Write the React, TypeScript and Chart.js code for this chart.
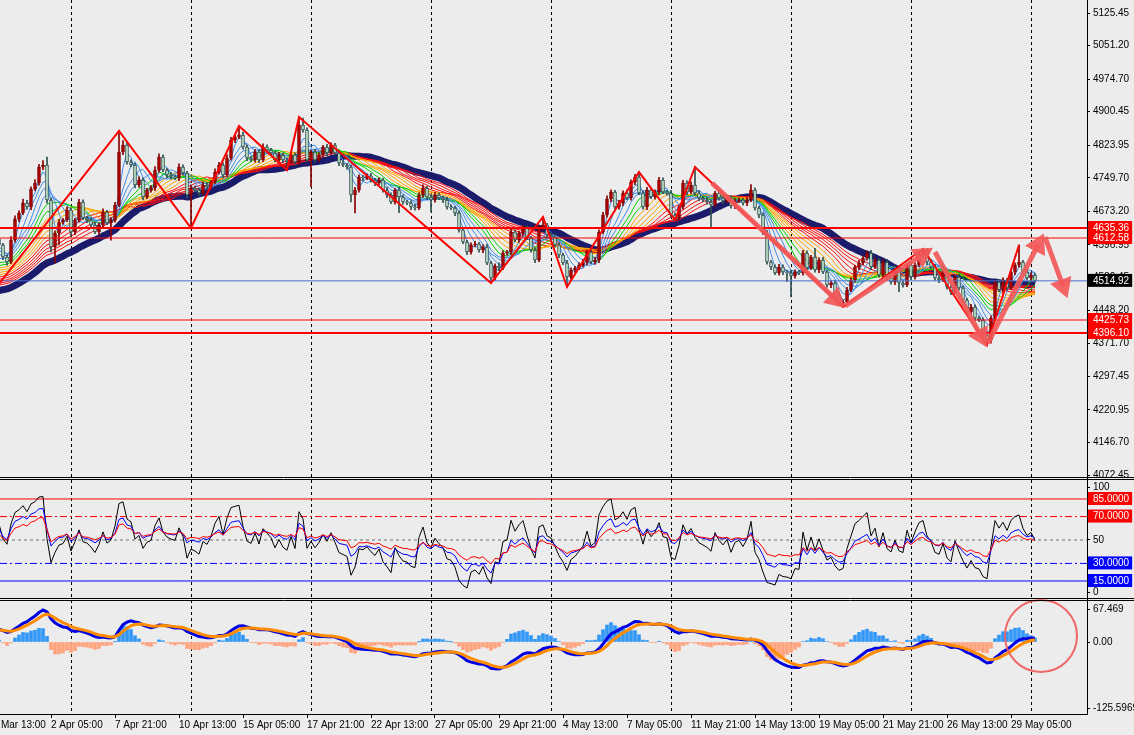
import React, { useEffect, useRef } from 'react';
import { Chart, registerables } from 'chart.js';

Chart.register(...registerables);

// ---------------- DATA ----------------
const FIRST_OPEN = 4610.0;
const CLOSE = [
  4596.7, 4569.3, 4557.9, 4608.1, 4655.9, 4669.6, 4692.4, 4683.3, 4724.3, 4738.0,
  4774.5, 4779.0, 4699.2, 4592.1, 4624.0, 4649.1, 4653.7, 4676.4, 4626.3, 4653.7,
  4694.7, 4658.2, 4653.7, 4642.3, 4626.3, 4642.3, 4671.9, 4646.8, 4653.7, 4687.8,
  4808.7, 4824.6, 4785.8, 4779.0, 4733.5, 4744.8, 4706.1, 4722.1, 4726.6, 4767.6,
  4797.3, 4767.6, 4756.2, 4751.7, 4749.4, 4774.5, 4760.8, 4710.6, 4726.6, 4722.1,
  4715.2, 4733.5, 4728.9, 4740.3, 4763.0, 4779.0, 4756.2, 4795.0, 4836.0, 4842.8,
  4847.4, 4820.0, 4795.0, 4790.4, 4808.7, 4790.4, 4820.0, 4813.2, 4806.4, 4790.4,
  4801.8, 4790.4, 4785.8, 4801.8, 4785.8, 4870.2, 4858.8, 4790.4, 4808.7, 4790.4,
  4801.8, 4820.0, 4806.4, 4824.6, 4806.4, 4783.6, 4779.0, 4774.5, 4710.6, 4722.1,
  4751.7, 4749.4, 4753.9, 4744.8, 4738.0, 4744.8, 4722.1, 4710.6, 4694.7, 4722.1,
  4706.1, 4694.7, 4692.4, 4683.3, 4681.0, 4710.6, 4726.6, 4706.1, 4699.2, 4710.6,
  4703.8, 4699.2, 4683.3, 4681.0, 4669.6, 4630.9, 4603.5, 4580.7, 4596.7, 4598.9,
  4585.3, 4592.1, 4555.6, 4521.5, 4548.8, 4544.3, 4578.4, 4580.7, 4626.3, 4608.1,
  4624.0, 4635.4, 4612.6, 4585.3, 4562.5, 4635.4, 4642.3, 4619.5, 4614.9, 4596.7,
  4573.9, 4555.6, 4523.8, 4539.7, 4544.3, 4551.1, 4557.9, 4580.7, 4557.9, 4562.5,
  4626.3, 4665.0, 4701.5, 4717.5, 4683.3, 4692.4, 4715.2, 4703.8, 4740.3, 4751.7,
  4715.2, 4683.3, 4722.1, 4706.1, 4717.5, 4744.8, 4717.5, 4715.2, 4665.0, 4658.2,
  4683.3, 4738.0, 4717.5, 4733.5, 4715.2, 4703.8, 4699.2, 4694.7, 4687.8, 4715.2,
  4703.8, 4697.0, 4703.8, 4685.5, 4697.0, 4699.2, 4692.4, 4699.2, 4722.1, 4681.0,
  4665.0, 4624.0, 4557.9, 4546.5, 4532.9, 4546.5, 4535.1, 4532.9, 4526.1, 4535.1,
  4532.9, 4578.4, 4544.3, 4569.3, 4539.7, 4562.5, 4535.1, 4505.5, 4510.1, 4482.7,
  4464.5, 4466.8, 4494.1, 4516.9, 4546.5, 4555.6, 4567.0, 4578.4, 4546.5, 4562.5,
  4528.3, 4557.9, 4521.5, 4512.4, 4535.1, 4510.1, 4505.5, 4551.1, 4523.8, 4551.1,
  4578.4, 4585.3, 4557.9, 4546.5, 4521.5, 4516.9, 4532.9, 4501.0, 4489.6, 4523.8,
  4498.7, 4471.3, 4444.0, 4455.4, 4430.3, 4425.7, 4391.5, 4380.1, 4430.3, 4512.4,
  4494.1, 4516.9, 4498.7, 4535.1, 4551.1, 4557.9, 4535.1, 4521.5, 4528.3, 4514.92,
];
const UPPER_WICK = [
  6, 4, 5, 8, 7, 5, 9, 6, 5, 8,
  6, 10, 18, 4, 5, 6, 4, 7, 5, 4,
  6, 5, 4, 5, 6, 5, 7, 4, 5, 6,
  48, 10, 6, 5, 4, 7, 5, 4, 6, 8,
  7, 5, 4, 6, 5, 7, 5, 4, 6, 5,
  4, 6, 5, 4, 7, 6, 5, 8, 6, 5,
  20, 6, 5, 4, 6, 5, 7, 5, 4, 5,
  6, 5, 4, 6, 5, 18, 16, 5, 4, 6,
  5, 4, 6, 5, 4, 5, 6, 4, 5, 6,
  5, 4, 5, 6, 4, 5, 4, 6, 5, 4,
  6, 5, 4, 5, 6, 5, 7, 4, 5, 6,
  5, 4, 6, 5, 4, 5, 6, 4, 5, 6,
  4, 5, 6, 4, 5, 7, 5, 4, 6, 5,
  4, 6, 5, 4, 5, 5, 18, 4, 5, 6,
  5, 4, 6, 5, 4, 5, 6, 4, 5, 6,
  5, 6, 7, 5, 4, 6, 5, 7, 5, 6,
  11, 5, 6, 4, 5, 6, 5, 4, 6, 5,
  4, 6, 5, 7, 41, 5, 4, 6, 5, 4,
  5, 6, 4, 5, 6, 5, 4, 6, 12, 5,
  4, 5, 6, 4, 5, 6, 5, 4, 6, 5,
  4, 6, 5, 4, 20, 5, 6, 4, 5, 6,
  4, 5, 6, 5, 4, 6, 5, 4, 6, 5,
  4, 5, 6, 4, 5, 6, 5, 4, 6, 5,
  4, 3, 3, 5, 6, 4, 5, 6, 4, 5,
  6, 5, 4, 6, 5, 4, 5, 6, 5, 4,
  6, 5, 4, 6, 5, 39, 4, 6, 5, 4,
];
const LOWER_WICK = [
  5, 6, 7, 4, 5, 6, 4, 5, 6, 4,
  5, 6, 7, 11, 36, 27, 5, 4, 11, 6,
  5, 4, 6, 5, 4, 6, 5, 4, 39, 5,
  4, 6, 5, 4, 7, 5, 6, 4, 5, 6,
  5, 4, 6, 5, 4, 6, 5, 7, 75, 5,
  6, 4, 5, 6, 4, 5, 6, 4, 5, 6,
  4, 5, 6, 4, 5, 6, 4, 5, 6, 4,
  5, 6, 18, 4, 5, 6, 5, 4, 61, 5,
  4, 5, 6, 4, 5, 6, 4, 5, 16, 41,
  5, 6, 4, 5, 6, 4, 5, 6, 4, 5,
  36, 5, 4, 6, 5, 4, 5, 6, 27, 5,
  4, 6, 5, 4, 6, 5, 4, 6, 5, 4,
  5, 6, 4, 11, 5, 6, 4, 5, 6, 4,
  5, 6, 4, 5, 6, 4, 5, 6, 4, 5,
  6, 4, 23, 5, 6, 4, 5, 6, 4, 5,
  6, 4, 5, 6, 4, 5, 6, 4, 5, 6,
  4, 5, 6, 4, 5, 6, 4, 5, 6, 5,
  4, 5, 6, 4, 5, 6, 4, 5, 50, 4,
  5, 6, 4, 5, 6, 4, 5, 6, 4, 5,
  6, 4, 5, 6, 4, 5, 6, 20, 48, 5,
  4, 5, 6, 4, 5, 6, 4, 5, 6, 4,
  5, 9, 6, 4, 5, 6, 4, 5, 6, 4,
  5, 6, 4, 5, 6, 20, 5, 4, 6, 5,
  4, 5, 6, 4, 5, 6, 4, 5, 6, 4,
  5, 6, 4, 5, 6, 4, 5, 11, 7, 5,
  4, 6, 5, 4, 6, 5, 4, 5, 6, 4,
];

// Moving-average ribbon (SMA periods and the price level before the first visible bar)
const RIBBON_PERIODS = [3, 5, 7, 9, 11, 13, 15, 17, 19, 21, 23, 25, 27, 29, 31];
const RIBBON_SEEDS = [4590, 4580, 4570, 4562, 4552, 4546, 4540, 4535, 4530, 4525, 4520, 4515, 4510, 4506, 4502];
const NAVY_PERIOD = 36;
const NAVY_SEED = 4489.6;

// ZigZag
const ZZ_BAR = [0, 30, 48, 60, 72, 75, 123, 136, 142, 160, 169, 174, 211, 231, 247, 255];
const ZZ_PRICE = [4507.8, 4856.5, 4635.4, 4867.9, 4767.6, 4888.4, 4510.1, 4660.5, 4500.9, 4763.0, 4653.7, 4774.5, 4455.4, 4588.0, 4368.7, 4596.7];

// Hand-drawn arrows (start, head)
const ARROW_FROM_BAR = [178.25, 211.5, 234.0, 247.25, 261.5];
const ARROW_FROM_PRICE = [4738.0, 4457.7, 4580.7, 4373.3, 4614.9];
const ARROW_TO_BAR = [209.1, 230.75, 245.5, 259.75, 266.0];
const ARROW_TO_PRICE = [4473.6, 4573.9, 4389.3, 4596.7, 4503.2];

// Horizontal levels
const LEVEL_PRICES = [4635.36, 4612.58, 4425.73, 4396.10];
const BID_PRICE = 4514.92;

// Price axis labels
const MAIN_TICKS = [5125.45, 5051.20, 4974.70, 4900.45, 4823.95, 4749.70, 4673.20, 4596.95, 4522.45, 4448.20, 4371.70, 4297.45, 4220.95, 4146.70, 4072.45];

// Oscillator window
const RSI_PERIODS = [6, 14, 24];
const RSI_SEED_GAIN = [14, 10, 9];
const RSI_SEED_LOSS = [8, 6.8, 7.4];
const RSI_LEVELS = [85, 70, 50, 30, 15];
const RSI_TICK_POS = [95.2, 85, 70, 50, 30, 15, 5.6];
const RSI_TICK_TEXT = ['100', '85.0000', '70.0000', '50', '30.0000', '15.0000', '0'];

// MACD window
const MACD_FAST = 12;
const MACD_SLOW = 26;
const MACD_SIGNAL = 5;
const MACD_FAST_SEED = 4575;
const MACD_SLOW_SEED = 4553;
const MACD_SIGNAL_SEED = 20;
const MACD_HIST_SCALE = 2.5;
const MACD_TICK_POS = [57, 0, -115];
const MACD_TICK_TEXT = ['67.469', '0.00', '-125.5969'];
const CIRCLE_BAR = 260.5;
const CIRCLE_VALUE = 10.4;

// Time axis
const GRID_BARS = [18, 48, 78, 108, 138, 168, 198, 228, 258];
const TIME_BARS = [-3, 13, 29, 45, 61, 77, 93, 109, 125, 141, 157, 173, 189, 205, 221, 237, 253];
const TIME_LABELS = ['31 Mar 13:00', '2 Apr 05:00', '7 Apr 21:00', '10 Apr 13:00', '15 Apr 05:00', '17 Apr 21:00', '22 Apr 13:00', '27 Apr 05:00', '29 Apr 21:00', '4 May 13:00', '7 May 05:00', '11 May 21:00', '14 May 13:00', '19 May 05:00', '21 May 21:00', '26 May 13:00', '29 May 05:00'];

// ---------------- LAYOUT ----------------
const X_MIN = 0.25;
const X_MAX = 272;
const MAIN_MIN = 4061.06;
const MAIN_MAX = 5155.08;
const RSI_MIN = -2.07;
const RSI_MAX = 101.2;
const MACD_MIN = -125.33;
const MACD_MAX = 71.37;

const BG = '#ECECEC';
const BLUE_RIB = '#3F8EEA';
const GREEN_RIB = '#00D400';
const ORANGE_RIB = '#FFA500';
const RED_RIB = '#FF1010';
const RIBBON_COLORS = [BLUE_RIB, BLUE_RIB, BLUE_RIB, BLUE_RIB, GREEN_RIB, GREEN_RIB, ORANGE_RIB, ORANGE_RIB, ORANGE_RIB, ORANGE_RIB, RED_RIB, RED_RIB, RED_RIB, RED_RIB, RED_RIB];
const ARROW_COLOR = 'rgba(243,88,88,0.92)';

function ema(src: number[], period: number, seed: number): number[] {
  const a = 2 / (period + 1);
  let v = seed;
  return src.map((c) => {
    v = v + a * (c - v);
    return v;
  });
}

// simple moving average; bars before the chart start are taken at the "seed" level
function sma(src: number[], period: number, seed: number): number[] {
  return src.map((_, i) => {
    let s = 0;
    for (let j = i - period + 1; j <= i; j++) s += j < 0 ? seed : src[j];
    return s / period;
  });
}

function rsi(src: number[], period: number, g0: number, l0: number): number[] {
  let ag = g0;
  let al = l0;
  return src.map((c, i) => {
    if (i > 0) {
      const d = c - src[i - 1];
      ag = (ag * (period - 1) + Math.max(d, 0)) / period;
      al = (al * (period - 1) + Math.max(-d, 0)) / period;
    }
    return 100 - 100 / (1 + ag / al);
  });
}

export default function App() {
  const ref = useRef<HTMLCanvasElement>(null);

  useEffect(() => {
    document.body.style.margin = '0';
    document.body.style.background = BG;
    Chart.defaults.font.family = 'Liberation Sans';
    Chart.defaults.font.size = 10;
    Chart.defaults.color = '#000';

    const OPEN = CLOSE.map((c, i) => (i === 0 ? FIRST_OPEN : CLOSE[i - 1]));
    const HIGH = CLOSE.map((c, i) => Math.max(OPEN[i], c) + UPPER_WICK[i]);
    const LOW = CLOSE.map((c, i) => Math.min(OPEN[i], c) - LOWER_WICK[i]);
    const bull = CLOSE.map((c, i) => c >= OPEN[i]);
    const bars = CLOSE.map((_, i) => i);

    const ribbon = RIBBON_PERIODS.map((p, k) => sma(CLOSE, p, RIBBON_SEEDS[k]));
    const navy = sma(CLOSE, NAVY_PERIOD, NAVY_SEED);
    const rsis = RSI_PERIODS.map((p, k) => rsi(CLOSE, p, RSI_SEED_GAIN[k], RSI_SEED_LOSS[k]));
    const eFast = ema(CLOSE, MACD_FAST, MACD_FAST_SEED);
    const eSlow = ema(CLOSE, MACD_SLOW, MACD_SLOW_SEED);
    const macd = eFast.map((v, i) => v - eSlow[i]);
    const signal = ema(macd, MACD_SIGNAL, MACD_SIGNAL_SEED);
    const hist = macd.map((v, i) => (v - signal[i]) * MACD_HIST_SCALE);

    const pts = (arr: number[]) => arr.map((v, i) => ({ x: i, y: v }));
    const hline = (v: number) => [{ x: X_MIN, y: v }, { x: X_MAX, y: v }];

    const lineBase = { type: 'line', pointRadius: 0, tension: 0, fill: false, xAxisID: 'x' };

    const datasets: any[] = [];

    datasets.push({
      ...lineBase, yAxisID: 'y', order: 0, showLine: false,
      data: ARROW_TO_BAR.map((b, k) => ({ x: b, y: ARROW_TO_PRICE[k] })),
      pointStyle: 'triangle', pointRadius: 13, pointBackgroundColor: ARROW_COLOR, pointBorderWidth: 0,
      pointRotation: (ctx: any) => {
        const k = ctx.dataIndex;
        const sx = ctx.chart.scales.x;
        const sy = ctx.chart.scales.y;
        if (k === undefined || !sx || !sy) return 0;
        const dx = sx.getPixelForValue(ARROW_TO_BAR[k]) - sx.getPixelForValue(ARROW_FROM_BAR[k]);
        const dy = sy.getPixelForValue(ARROW_TO_PRICE[k]) - sy.getPixelForValue(ARROW_FROM_PRICE[k]);
        return (Math.atan2(dx, -dy) * 180) / Math.PI;
      },
    });
    ARROW_FROM_BAR.forEach((b, k) => {
      datasets.push({
        ...lineBase, yAxisID: 'y', order: 1, borderColor: ARROW_COLOR, borderWidth: 5, borderCapStyle: 'butt',
        data: [{ x: b, y: ARROW_FROM_PRICE[k] }, { x: ARROW_TO_BAR[k], y: ARROW_TO_PRICE[k] }],
      });
    });
    datasets.push({
      ...lineBase, yAxisID: 'y', order: 2, borderColor: '#FF0000', borderWidth: 2,
      data: ZZ_BAR.map((b, k) => ({ x: b, y: ZZ_PRICE[k] })),
    });
    LEVEL_PRICES.forEach((v, k) => {
      datasets.push({
        ...lineBase, yAxisID: 'y', order: 3, borderColor: '#FF0000', borderWidth: k === 0 || k === 3 ? 2 : 1,
        data: hline(v),
      });
    });
    datasets.push({ ...lineBase, yAxisID: 'y', order: 3, borderColor: '#4A6FD3', borderWidth: 1, data: hline(BID_PRICE) });

    datasets.push({
      type: 'bar', xAxisID: 'x', yAxisID: 'y', order: 4, grouped: false,
      data: bars.map((i) => ({ x: i, y: [OPEN[i], CLOSE[i]] })),
      backgroundColor: bars.map((i) => (bull[i] ? '#B00000' : '#C4E6CB')),
      borderColor: bars.map((i) => (bull[i] ? '#780000' : '#2F4F4F')),
      borderWidth: 1, borderSkipped: false, barThickness: 3, minBarLength: 1,
    });
    datasets.push({
      type: 'bar', xAxisID: 'x', yAxisID: 'y', order: 5, grouped: false,
      data: bars.map((i) => ({ x: i, y: [LOW[i], HIGH[i]] })),
      backgroundColor: bars.map((i) => (bull[i] ? '#8B0000' : '#2F4F4F')),
      borderWidth: 0, barThickness: 1,
    });
    ribbon.forEach((arr, k) => {
      datasets.push({ ...lineBase, yAxisID: 'y', order: 6 + k * 0.01, borderColor: RIBBON_COLORS[k], borderWidth: 1, data: pts(arr) });
    });
    datasets.push({ ...lineBase, yAxisID: 'y', order: 7, borderColor: '#1B1B6B', borderWidth: 7, borderJoinStyle: 'round', data: pts(navy) });

    const rsiColors = ['#000000', '#0000FF', '#FF0000'];
    [2, 1, 0].forEach((k) => {
      datasets.push({ ...lineBase, yAxisID: 'yRsi', order: 10 + (2 - k) * 0.1, borderColor: rsiColors[k], borderWidth: 1, data: pts(rsis[k]) });
    });
    const lvlStyle: any = {
      85: { c: '#FF0000', d: [] },
      70: { c: '#FF0000', d: [7, 3, 2, 3] },
      50: { c: '#707070', d: [3, 3] },
      30: { c: '#0000FF', d: [7, 3, 2, 3] },
      15: { c: '#0000FF', d: [] },
    };
    RSI_LEVELS.forEach((v) => {
      datasets.push({ ...lineBase, yAxisID: 'yRsi', order: 11, borderColor: lvlStyle[v].c, borderDash: lvlStyle[v].d, borderWidth: 1, data: hline(v) });
    });

    datasets.push({
      ...lineBase, yAxisID: 'yMacd', order: 20, showLine: false, clip: false,
      data: [{ x: CIRCLE_BAR, y: CIRCLE_VALUE }],
      pointStyle: 'circle', pointRadius: 36, pointBorderColor: 'rgba(240,90,90,0.9)', pointBorderWidth: 2, pointBackgroundColor: 'rgba(0,0,0,0)',
    });
    datasets.push({ ...lineBase, yAxisID: 'yMacd', order: 21, borderColor: '#FF8C00', borderWidth: 3, data: pts(signal) });
    datasets.push({ ...lineBase, yAxisID: 'yMacd', order: 22, borderColor: '#0000E0', borderWidth: 3, data: pts(macd) });
    datasets.push({
      type: 'bar', xAxisID: 'x', yAxisID: 'yMacd', order: 23, grouped: false,
      data: bars.map((i) => ({ x: i, y: hist[i] })),
      backgroundColor: bars.map((i) => (hist[i] >= 0 ? '#3397F5' : '#FFA27E')),
      borderWidth: 0, barThickness: 3,
    });

    const timeMap = new Map<number, string>(TIME_BARS.map((b, k) => [b, TIME_LABELS[k]] as [number, string]));
    const gridSet = new Set(GRID_BARS);
    const specialMain = new Map<number, string>();
    LEVEL_PRICES.forEach((v) => specialMain.set(v, '#FF0000'));
    specialMain.set(BID_PRICE, '#000000');
    const rsiBox = new Map<number, string>([[85, '#FF0000'], [70, '#FF0000'], [30, '#0000FF'], [15, '#0000FF']]);

    const yFit = (s: any) => {
      s.width = 47;
      s.paddingTop = 0;
      s.paddingBottom = 0;
    };
    const yCommon = {
      type: 'linear', position: 'right', stack: 'panes',
      grid: { drawOnChartArea: false, drawTicks: true, tickLength: 3, color: '#000' },
      border: { display: true, color: '#000' },
      afterFit: yFit,
    };

    const bgPlugin = {
      id: 'bg',
      beforeDraw: (chart: any) => {
        const c = chart.ctx;
        c.save();
        c.fillStyle = BG;
        c.fillRect(0, 0, chart.width, chart.height);
        c.restore();
      },
    };
    const sepPlugin = {
      id: 'sep',
      afterDraw: (chart: any) => {
        const c = chart.ctx;
        c.save();
        c.strokeStyle = '#000';
        c.lineWidth = 1;
        ['y', 'yRsi'].forEach((id) => {
          const b = Math.round(chart.scales[id].bottom);
          [b - 2.5, b - 0.5].forEach((yy) => {
            c.beginPath();
            c.moveTo(0, yy);
            c.lineTo(chart.width, yy);
            c.stroke();
          });
        });
        c.restore();
      },
    };

    const chart = new Chart(ref.current as HTMLCanvasElement, {
      type: 'line',
      data: { datasets },
      options: {
        animation: false,
        responsive: false,
        maintainAspectRatio: false,
        events: [],
        layout: { padding: 0, autoPadding: false },
        plugins: { legend: { display: false }, tooltip: { enabled: false } },
        scales: {
          x: {
            type: 'linear', position: 'bottom', min: X_MIN, max: X_MAX, offset: false,
            afterBuildTicks: (s: any) => {
              s.ticks = [...GRID_BARS, ...TIME_BARS].map((v) => ({ value: v }));
            },
            afterFit: (s: any) => {
              s.height = 21;
              s.paddingLeft = 0;
              s.paddingRight = 0;
            },
            ticks: {
              autoSkip: false, maxRotation: 0, minRotation: 0, align: 'start', padding: 1, color: '#000',
              callback: (v: any) => timeMap.get(Number(v)) ?? '',
            },
            grid: {
              offset: false, lineWidth: 1, drawTicks: true, tickLength: 4,
              color: (c: any) => (c.tick && gridSet.has(c.tick.value) ? '#000' : 'rgba(0,0,0,0)'),
              tickColor: (c: any) => (c.tick && timeMap.has(c.tick.value) ? '#000' : 'rgba(0,0,0,0)'),
            },
            border: { display: true, color: '#000', dash: [3, 3] },
          },
          y: {
            ...yCommon, stackWeight: 480, min: MAIN_MIN, max: MAIN_MAX,
            afterBuildTicks: (s: any) => {
              s.ticks = [...MAIN_TICKS, ...LEVEL_PRICES, BID_PRICE].map((v) => ({ value: v }));
            },
            ticks: {
              autoSkip: false, padding: 3,
              callback: (v: any) => Number(v).toFixed(2),
              color: (c: any) => (c.tick && specialMain.has(c.tick.value) ? '#FFFFFF' : '#000000'),
              showLabelBackdrop: (c: any) => !!(c.tick && specialMain.has(c.tick.value)),
              backdropColor: (c: any) => (c.tick && specialMain.get(c.tick.value)) || 'rgba(0,0,0,0)',
              backdropPadding: { left: 5, right: 3, top: 1, bottom: 0 },
            },
          },
          yRsi: {
            ...yCommon, stackWeight: 121, min: RSI_MIN, max: RSI_MAX,
            afterBuildTicks: (s: any) => {
              s.ticks = RSI_TICK_POS.map((v) => ({ value: v }));
            },
            ticks: {
              autoSkip: false, padding: 3,
              callback: (v: any) => RSI_TICK_TEXT[RSI_TICK_POS.indexOf(Number(v))] ?? '',
              color: (c: any) => (c.tick && rsiBox.has(c.tick.value) ? '#FFFFFF' : '#000000'),
              showLabelBackdrop: (c: any) => !!(c.tick && rsiBox.has(c.tick.value)),
              backdropColor: (c: any) => (c.tick && rsiBox.get(c.tick.value)) || 'rgba(0,0,0,0)',
              backdropPadding: { left: 5, right: 3, top: 1, bottom: 0 },
            },
          },
          yMacd: {
            ...yCommon, stackWeight: 113, min: MACD_MIN, max: MACD_MAX,
            afterBuildTicks: (s: any) => {
              s.ticks = MACD_TICK_POS.map((v) => ({ value: v }));
            },
            ticks: {
              autoSkip: false, padding: 3,
              callback: (v: any) => MACD_TICK_TEXT[MACD_TICK_POS.indexOf(Number(v))] ?? '',
            },
          },
        },
      } as any,
      plugins: [bgPlugin, sepPlugin],
    } as any);

    return () => chart.destroy();
  }, []);

  return (
    <div style={{ width: 1134, height: 735, background: BG }}>
      <canvas ref={ref} width={1134} height={735} style={{ display: 'block' }} />
    </div>
  );
}
